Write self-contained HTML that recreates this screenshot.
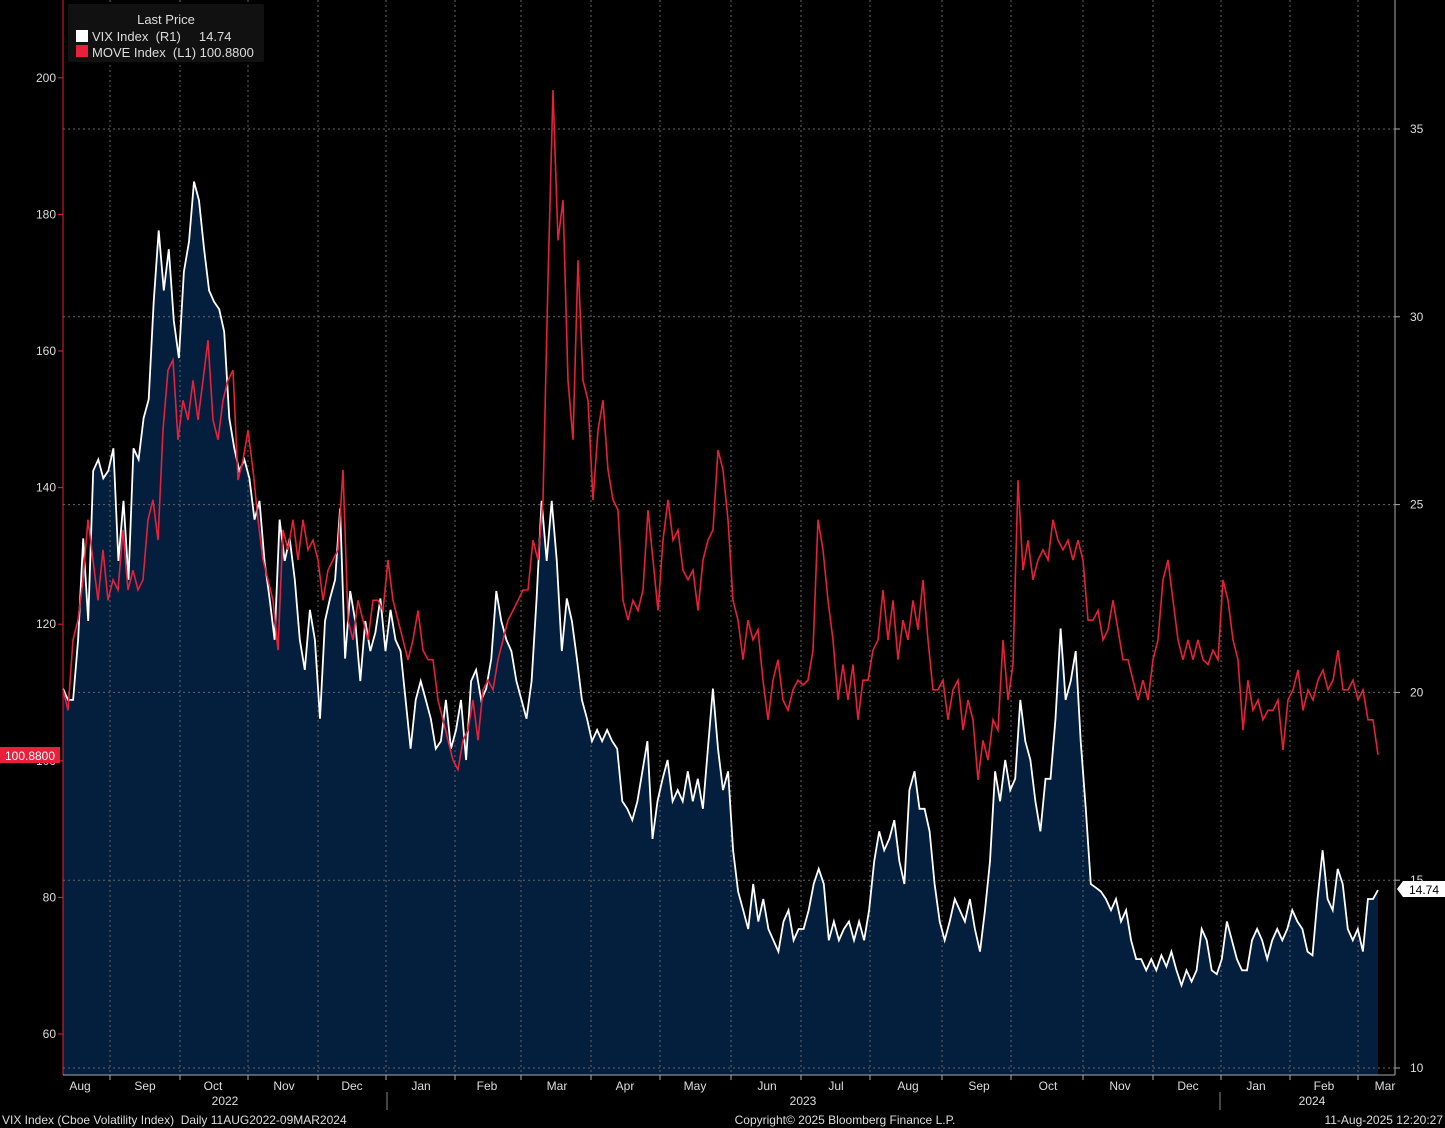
<!DOCTYPE html>
<html><head><meta charset="utf-8"><style>
html,body{margin:0;padding:0;background:#000;}
svg{display:block;font-family:"Liberation Sans Narrow","Liberation Sans",sans-serif;}
.pre{white-space:pre;}
</style></head><body>
<svg id="chart" width="1445" height="1128" viewBox="0 0 1445 1128" xmlns="http://www.w3.org/2000/svg"></svg>
<script>
const monthLabels=["Aug","Sep","Oct","Nov","Dec","Jan","Feb","Mar","Apr","May","Jun","Jul","Aug","Sep","Oct","Nov","Dec","Jan","Feb","Mar"];
const leftTicks=[60,80,100,120,140,160,180,200];
const rightTicks=[10,15,20,25,30,35];
const vixValues=[20.1,19.8,19.8,21.4,24.1,21.9,25.9,26.2,25.7,25.9,26.5,23.5,25.1,23,26.5,26.2,27.3,27.8,30.4,32.3,30.7,31.8,29.9,28.9,31.2,32,33.6,33.1,31.8,30.7,30.4,30.2,29.6,27.3,26.5,25.9,26.2,25.7,24.6,25.1,23.5,22.5,21.4,24.6,23.5,24.1,23,21.4,20.6,22.2,21.4,19.3,21.9,22.5,23,24.9,20.9,22.7,21.9,20.3,21.9,21.1,21.6,22.5,21.1,22.2,21.4,21.1,19.8,18.5,19.8,20.3,19.8,19.3,18.5,18.7,19.8,18.5,19,19.8,18.2,20.3,20.6,19.8,20.1,20.9,22.7,21.9,21.4,21.1,20.3,19.8,19.3,20.3,22.5,25.1,23.5,25.1,23.5,21.1,22.5,21.9,20.9,19.8,19.3,18.7,19,18.7,19,18.7,18.5,17.1,16.9,16.6,17.1,17.9,18.7,16.1,17.1,17.7,18.2,17.1,17.4,17.1,17.9,17.1,17.7,16.9,18.5,20.1,18.5,17.4,17.9,15.8,14.7,14.2,13.7,14.9,13.9,14.5,13.7,13.4,13.1,13.9,14.2,13.4,13.7,13.7,14.2,14.9,15.3,14.9,13.4,13.9,13.4,13.7,13.9,13.4,13.9,13.4,14.2,15.5,16.3,15.8,16.1,16.6,15.5,14.9,17.4,17.9,16.9,16.9,16.3,14.9,13.9,13.4,13.9,14.5,14.2,13.9,14.5,13.7,13.1,14.2,15.5,17.9,17.1,18.2,17.4,17.7,19.8,18.7,18.2,17.1,16.3,17.7,17.7,19.3,21.7,19.8,20.3,21.1,18.7,16.9,14.9,14.8,14.7,14.5,14.2,14.5,13.9,14.2,13.4,12.9,12.9,12.6,12.9,12.6,13,12.7,13.1,12.6,12.2,12.6,12.3,12.6,13.7,13.4,12.6,12.5,12.9,13.9,13.4,12.9,12.6,12.6,13.4,13.7,13.4,12.9,13.4,13.7,13.4,13.7,14.2,13.9,13.7,13.1,13,14.5,15.8,14.5,14.2,15.3,14.9,13.7,13.4,13.7,13.1,14.5,14.5,14.74];
const moveValues=[110.4,107.4,117.7,120.6,126.5,135.3,129.4,123.5,130.9,123.5,126.5,125,133.8,125,127.9,125,126.5,135.3,138.2,132.3,148.4,157.2,158.7,147,152.8,149.9,155.7,149.9,155.7,161.6,149.9,147,152.8,155.7,157.2,141.1,144,148.4,142.6,135.3,129.4,126.5,123.5,116.2,133.8,130.9,135.3,129.4,135.3,130.9,132.3,129.4,123.5,127.9,129.4,130.9,142.6,120.6,117.7,123.5,120.6,117.7,123.5,123.5,122,129.4,123.5,120.6,117.7,114.8,117.7,122,116.2,114.8,114.8,108.9,106,103,100.1,98.7,103,104.5,108.9,103,110.4,111.8,110.4,114.8,117.7,120.6,122,123.5,125,125,132.3,129.4,138.2,170.4,198.2,176.2,182.1,155.7,147,173.3,155.7,152.8,138.2,148.4,152.8,142.6,138.2,136.7,123.5,120.6,123.5,122,125,136.7,129.4,122,132.3,138.2,132.3,133.8,127.9,126.5,127.9,122,129.4,132.3,133.8,145.5,142.6,135.3,123.5,120.6,114.8,120.6,117.7,119.2,111.8,106,111.8,114.8,108.9,107.4,110.4,111.8,111.1,111.8,116.2,135.3,130.9,123.5,117.7,108.9,114.1,108.9,114.1,106,111.8,111.8,116.2,117.7,125,117.7,123.5,114.8,120.6,117.7,123.5,119.2,126.5,117.7,110.4,110.4,111.8,106,110.4,111.8,104.5,108.9,106,97.2,103,100.1,106,104.5,117.7,108.9,114.1,141.1,127.9,132.3,126.5,129.4,130.9,129.4,135.3,132.3,130.9,132.3,129.4,132.3,129.4,120.6,120.6,122,117.7,119.2,123.5,119.2,114.8,114.8,111.8,108.9,111.8,108.9,114.8,117.7,126.5,129.4,123.5,117.7,114.8,117.7,114.8,117.7,114.8,114.1,116.2,114.8,126.5,123.5,117.7,114.8,104.5,111.8,107.4,108.9,106,107.4,107.4,108.9,101.6,108.9,110.4,113.3,107.4,110.4,108.9,111.8,113.3,110.4,111.8,116.2,110.4,110.4,111.8,108.9,110.4,106,106,100.88];

const NS="http://www.w3.org/2000/svg";
const svg=document.getElementById('chart');
const X0=63,X1=1378,PR=1395,BOT=1075;
function yL(v){return 1034-(v-60)*6.83;}
function yR(v){return 1068-(v-10)*37.56;}
function xIdx(i,n){return X0+(X1-X0)*i/(n-1);}
function mk(tag,attrs,parent){const e=document.createElementNS(NS,tag);for(const k in attrs)e.setAttribute(k,attrs[k]);(parent||svg).appendChild(e);return e;}
function txt(s,attrs,parent){const e=mk('text',attrs,parent);e.textContent=s;return e;}

let pts=vixValues.map((v,i)=>xIdx(i,vixValues.length).toFixed(1)+','+yR(v).toFixed(1));
const area=mk('polygon',{points:X0+','+BOT+' '+pts.join(' ')+' '+X1+','+BOT,fill:'#041e3e'});



const months=[110,180,248,318,386,455,521,591,660,731,801,870,942,1011,1083,1153,1221,1290,1358];
months.forEach(x=>{const l=mk('line',{x1:x,y1:0,x2:x,y2:BOT,stroke:'#666','stroke-width':1,'stroke-dasharray':'2,3'});

});
rightTicks.forEach(t=>{const y=yR(t);const l=mk('line',{x1:X0,y1:y,x2:PR,y2:y,stroke:'#666','stroke-width':1,'stroke-dasharray':'2,3'});

});

const vl=mk('polyline',{points:pts.join(' '),fill:'none',stroke:'#fff','stroke-width':1.8});


let mp=moveValues.map((v,i)=>xIdx(i,moveValues.length).toFixed(1)+','+yL(v).toFixed(1));
const ml=mk('polyline',{points:mp.join(' '),fill:'none',stroke:'#e8203a','stroke-width':1.6});



const la=mk('line',{x1:X0,y1:0,x2:X0,y2:BOT,stroke:'#e8203a','stroke-width':1});


const ra=mk('line',{x1:PR,y1:0,x2:PR,y2:BOT,stroke:'#aaa','stroke-width':1});


mk('line',{x1:X0,y1:BOT,x2:PR,y2:BOT,stroke:'#aaa','stroke-width':1});
leftTicks.forEach(t=>{const y=yL(t);mk('line',{x1:X0-5,y1:y,x2:X0,y2:y,stroke:'#e8203a'});
const e=txt(String(t),{x:56,y:y+4,fill:'#ddd','font-size':12,'text-anchor':'end'});

});
rightTicks.forEach(t=>{const y=yR(t);mk('line',{x1:PR,y1:y,x2:PR+5,y2:y,stroke:'#aaa'});
const e=txt(String(t),{x:1410,y:y+4,fill:'#ddd','font-size':12});

});
const mx=[80,145,213,284,352,421,487,557,625,695,767,836,908,979,1048,1120,1188,1256,1324,1385];
monthLabels.forEach((m,i)=>{const e=txt(m,{x:mx[i],y:1090,fill:'#ddd','font-size':12,'text-anchor':'middle'});

});
months.forEach(x=>mk('line',{x1:x,y1:BOT,x2:x,y2:BOT+5,stroke:'#aaa'}));
[[225,'2022'],[803,'2023'],[1312,'2024']].forEach(([x,s])=>{const e=txt(s,{x:x,y:1105,fill:'#ddd','font-size':12,'text-anchor':'middle'});

});
[387,1220].forEach(x=>mk('line',{x1:x,y1:1092,x2:x,y2:1110,stroke:'#888'}));

mk('rect',{x:0,y:747,width:60,height:16,fill:'#e8203a'});
const lt=txt('100.8800',{x:30,y:760,fill:'#fff','font-size':12,'text-anchor':'middle'});


mk('polygon',{points:'1397,889 1403,881 1445,881 1445,897 1403,897',fill:'#fff'});
const rt=txt('14.74',{x:1424,y:894,fill:'#000','font-size':12,'text-anchor':'middle'});



const lg=mk('g',{});


mk('rect',{x:68,y:4,width:196,height:58,fill:'#111',rx:2},lg);
txt('Last Price',{x:166,y:24,fill:'#ddd','font-size':13,'text-anchor':'middle'},lg);
mk('rect',{x:76,y:30,width:12,height:12,fill:'#fff'},lg);
const le1=txt('VIX Index  (R1)     14.74',{x:92,y:41,fill:'#ddd','font-size':13,'class':'pre'},lg);


mk('rect',{x:76,y:45,width:12,height:12,fill:'#e8203a'},lg);
const le2=txt('MOVE Index  (L1) 100.8800',{x:92,y:57,fill:'#ddd','font-size':13,'class':'pre'},lg);



const f1=txt('VIX Index (Cboe Volatility Index)  Daily 11AUG2022-09MAR2024',{x:2,y:1124,fill:'#ddd','font-size':12,'class':'pre'});


const f2=txt('Copyright© 2025 Bloomberg Finance L.P.',{x:845,y:1124,fill:'#ddd','font-size':12,'text-anchor':'middle'});


const f3=txt('11-Aug-2025 12:20:27',{x:1443,y:1124,fill:'#ddd','font-size':12,'text-anchor':'end'});


</script>
</body></html>
